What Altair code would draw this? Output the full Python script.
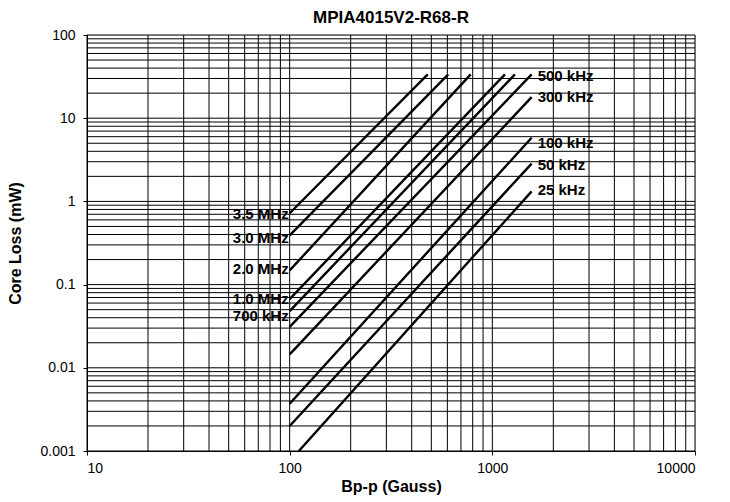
import altair as alt
import pandas as pd

# ---- data ----
freqs = ["3.5 MHz", "3.0 MHz", "2.0 MHz", "1.0 MHz", "700 kHz",
         "500 kHz", "300 kHz", "100 kHz", "50 kHz", "25 kHz"]
x_start = [100, 100, 100, 100, 100, 100, 100, 100, 100, 111]
y_start = [0.72, 0.39, 0.148, 0.067, 0.048, 0.031, 0.0145, 0.0037, 0.0020, 0.001]
x_end = [480, 606, 782, 1154, 1292, 1563, 1563, 1563, 1563, 1563]
y_end = [33.6, 33.6, 33.6, 33.6, 33.6, 33.6, 17.9, 5.83, 2.84, 1.32]

# label anchors (data coordinates) and side
label_side = ["left", "left", "left", "left", "left",
              "right", "right", "right", "right", "right"]
label_y = [0.70, 0.36, 0.152, 0.0664, 0.0415, 31.8, 17.8, 4.98, 2.71, 1.39]

x_ticks = [10, 100, 1000, 10000]
y_ticks = [0.001, 0.01, 0.1, 1, 10, 100]
x_grid = [m * d for d in [10, 100, 1000] for m in range(1, 10)] + [10000]
y_grid = [m * d for d in [0.001, 0.01, 0.1, 1, 10] for m in range(1, 10)] + [100]

FONT = "Liberation Sans"

rows = []
for f, xs, ys, xe, ye in zip(freqs, x_start, y_start, x_end, y_end):
    rows.append({"freq": f, "B": xs, "P": ys})
    rows.append({"freq": f, "B": xe, "P": ye})
lines_df = pd.DataFrame(rows)

lab_rows = []
for f, side, ly, xs, xe in zip(freqs, label_side, label_y, x_start, x_end):
    lab_rows.append({"freq": f, "side": side, "B": xs if side == "left" else xe, "P": ly})
lab_df = pd.DataFrame(lab_rows)

xscale = alt.Scale(type="log", domain=[10, 10000], nice=False)
yscale = alt.Scale(type="log", domain=[0.001, 100], nice=False)

xaxis = alt.Axis(values=x_ticks, format="~g", title="Bp-p (Gauss)", grid=False,
                 tickSize=4, tickColor="black", domainColor="black",
                 labelFont=FONT, labelFontSize=14, labelColor="black",
                 titleFont=FONT, titleFontSize=16, titleFontWeight="bold",
                 titleColor="black", labelPadding=6, titlePadding=3)
yaxis = alt.Axis(values=y_ticks, format="~g", title="Core Loss (mW)", grid=False,
                 tickSize=4, tickColor="black", domainColor="black",
                 labelFont=FONT, labelFontSize=14, labelColor="black",
                 titleFont=FONT, titleFontSize=16, titleFontWeight="bold",
                 titleColor="black", labelPadding=8, titlePadding=16)

vgrid = alt.Chart(pd.DataFrame({"g": x_grid})).mark_rule(
    color="black", strokeWidth=1).encode(
    x=alt.X("g:Q", scale=xscale, axis=xaxis))
hgrid = alt.Chart(pd.DataFrame({"g": y_grid})).mark_rule(
    color="black", strokeWidth=1).encode(
    y=alt.Y("g:Q", scale=yscale, axis=yaxis))

lines = alt.Chart(lines_df).mark_line(color="black", strokeWidth=2.4, clip=True).encode(
    x=alt.X("B:Q", scale=xscale),
    y=alt.Y("P:Q", scale=yscale),
    detail="freq:N",
)

left_labels = alt.Chart(lab_df[lab_df.side == "left"]).mark_text(
    align="right", baseline="middle", dx=-1, font=FONT, fontSize=15,
    fontWeight="bold", color="black").encode(
    x=alt.X("B:Q", scale=xscale), y=alt.Y("P:Q", scale=yscale), text="freq:N")
right_labels = alt.Chart(lab_df[lab_df.side == "right"]).mark_text(
    align="left", baseline="middle", dx=6, font=FONT, fontSize=15,
    fontWeight="bold", color="black").encode(
    x=alt.X("B:Q", scale=xscale), y=alt.Y("P:Q", scale=yscale), text="freq:N")

chart = alt.layer(vgrid, hgrid, lines, left_labels, right_labels).properties(
    width=608, height=416,
    title=alt.TitleParams("MPIA4015V2-R68-R", font=FONT, fontSize=17,
                          fontWeight="bold", color="black", anchor="middle", offset=1),
    autosize=alt.AutoSizeParams(type="none"),
    padding={"left": 79, "top": 27, "right": 20, "bottom": 50},
).configure_view(stroke=None).configure(background="white")

chart.save("out.html", embed_options={"renderer": "svg", "actions": False})
